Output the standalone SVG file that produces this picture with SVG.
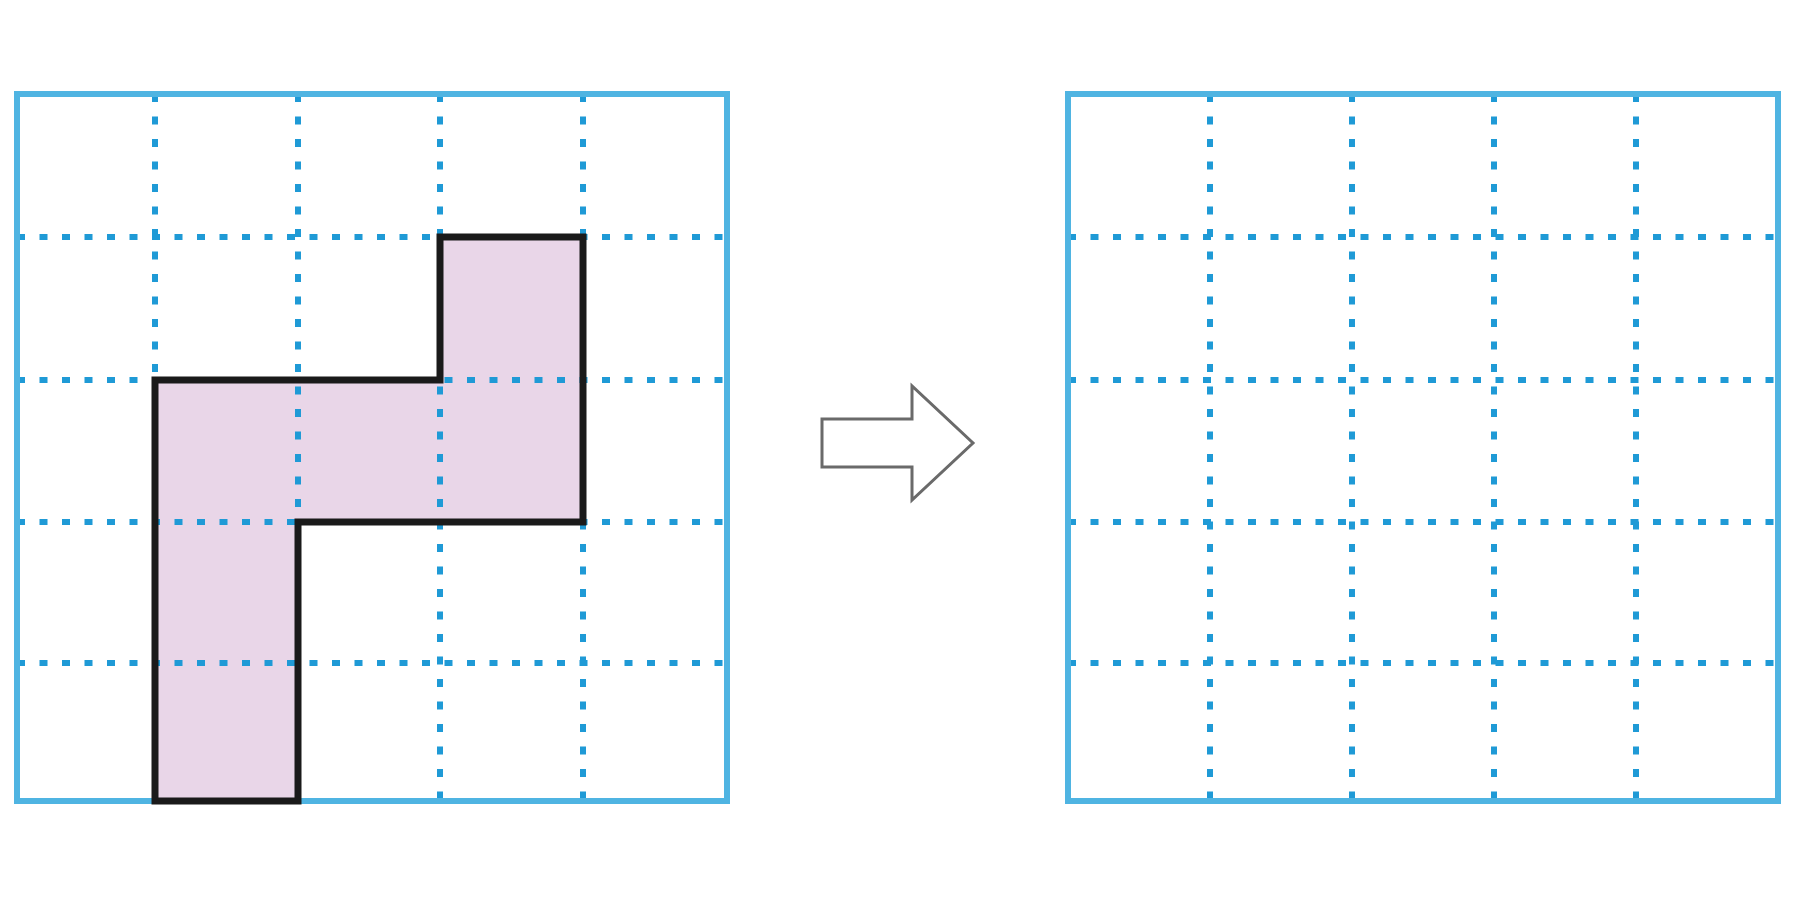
<svg xmlns="http://www.w3.org/2000/svg" width="1800" height="900" viewBox="0 0 1800 900">
<style>
.border{fill:none;stroke:#4fb4e2;stroke-width:6}
.dot{fill:none;stroke:#1f9ad6;stroke-width:6;stroke-dasharray:8 14.5}
.fill{fill:#e9d6e8;stroke:none}
.outline{fill:none;stroke:#1a1a1a;stroke-width:7;stroke-linejoin:miter}
.arrow{fill:#ffffff;stroke:#6a6a6a;stroke-width:3;stroke-linejoin:miter}
</style>
<rect width="1800" height="900" fill="#ffffff"/>
<g id="left-grid">
  <path class="fill" d="M155,801 L155,380 L440,380 L440,237 L583,237 L583,522 L298,522 L298,801 Z"/>
  <g class="dot">
    <path d="M155,94 V801 M298,94 V801 M440,94 V801 M583,94 V801"/>
    <path d="M17,237 H727 M17,380 H727 M17,522 H727 M17,663 H727"/>
  </g>
  <rect class="border" x="17" y="94" width="710" height="707"/>
  <path id="shape" class="outline" d="M155,801 L155,380 L440,380 L440,237 L583,237 L583,522 L298,522 L298,801 Z"/>
</g>
<g id="right-grid">
  <g class="dot">
    <path d="M1210,94 V801 M1352,94 V801 M1494,94 V801 M1636,94 V801"/>
    <path d="M1068,237 H1778 M1068,380 H1778 M1068,522 H1778 M1068,663 H1778"/>
  </g>
  <rect class="border" x="1068" y="94" width="710" height="707"/>
</g>
<g id="connectors">
  <path id="arrow" class="arrow" d="M822,419 L912,419 L912,386 L973,443 L912,500 L912,467 L822,467 Z"/>
</g>
</svg>
